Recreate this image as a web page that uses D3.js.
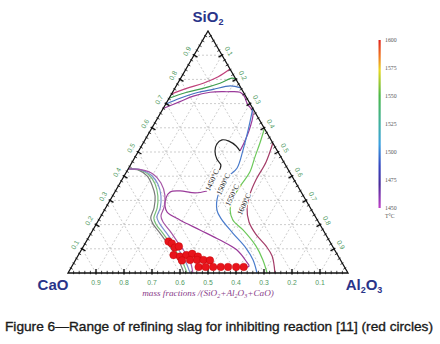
<!DOCTYPE html>
<html><head><meta charset="utf-8">
<script src="https://cdn.jsdelivr.net/npm/d3@7"></script>
<style>body{margin:0;background:#fff}svg{display:block}</style>
</head><body>
<svg id="c" width="440" height="344"></svg>
<script>
// ---- data (ternary mass fractions: [SiO2, Al2O3], CaO = 1 - SiO2 - Al2O3) ----
const fracTicks = [0.1,0.2,0.3,0.4,0.5,0.6,0.7,0.8,0.9];
const tempTicks = [1600,1575,1550,1525,1500,1475,1450];

const top1600 = [[0.74,0.0],[0.763,0.042],[0.784,0.091],[0.811,0.131],[0.843,0.157]];
const top1550 = [[0.722,0.0],[0.747,0.051],[0.763,0.101],[0.784,0.151],[0.805,0.183],[0.80,0.20]];
const top1500 = [[0.697,0.0],[0.722,0.039],[0.745,0.087],[0.759,0.139],[0.773,0.193],[0.765,0.235]];
const upper1450 = [[0.68,0.0],[0.708,0.046],[0.731,0.082],[0.747,0.134],[0.749,0.192],[0.747,0.241],[0.73,0.265],[0.70,0.29],[0.665,0.328],[0.599,0.350],[0.537,0.360],[0.504,0.362]];
const heart1450 = [[0.504,0.362],[0.525,0.338],[0.545,0.302],[0.550,0.275],[0.533,0.265],[0.504,0.273],[0.471,0.296],[0.446,0.323],[0.421,0.328]];
const loop1450 = [[0.339,0.327],[0.331,0.289],[0.339,0.231],[0.335,0.197],[0.310,0.195],[0.277,0.208],[0.252,0.228],[0.219,0.290],[0.178,0.382],[0.136,0.475],[0.095,0.556],[0.045,0.616],[0.029,0.632],[0.021,0.619]];
const right1500 = [[0.68,0.32],[0.591,0.348],[0.508,0.371],[0.434,0.387],[0.397,0.373],[0.322,0.375],[0.260,0.402],[0.227,0.432],[0.165,0.506],[0.103,0.584],[0.054,0.634],[0.0,0.675]];
const right1550 = [[0.597,0.403],[0.537,0.417],[0.479,0.428],[0.417,0.441],[0.364,0.436],[0.302,0.435],[0.260,0.449],[0.219,0.479],[0.178,0.536],[0.112,0.615],[0.054,0.669],[0.0,0.711]];
const right1600 = [[0.537,0.463],[0.459,0.478],[0.384,0.479],[0.326,0.487],[0.269,0.505],[0.211,0.541],[0.161,0.590],[0.112,0.651],[0.070,0.694],[0.0,0.739]];
const bundleGray = [[0.43,0.0],[0.424,0.042],[0.401,0.082],[0.364,0.118],[0.318,0.152],[0.269,0.173],[0.227,0.182],[0.202,0.203],[0.165,0.246],[0.124,0.292],[0.083,0.338],[0.041,0.379],[0.0,0.414]];
const bundleGreen = [[0.43,0.0],[0.426,0.044],[0.405,0.087],[0.368,0.127],[0.318,0.162],[0.269,0.184],[0.227,0.193],[0.202,0.213],[0.165,0.256],[0.124,0.302],[0.083,0.348],[0.041,0.390],[0.0,0.425]];
const bundleBlue = [[0.43,0.0],[0.426,0.048],[0.405,0.094],[0.368,0.137],[0.318,0.173],[0.269,0.195],[0.231,0.202],[0.207,0.222],[0.169,0.265],[0.128,0.311],[0.087,0.357],[0.045,0.398],[0.0,0.436]];
const bundlePurple = [[0.43,0.0],[0.426,0.051],[0.409,0.099],[0.372,0.146],[0.322,0.185],[0.273,0.207],[0.236,0.214],[0.211,0.234],[0.174,0.277],[0.132,0.323],[0.091,0.369],[0.050,0.411],[0.0,0.446]];

const labelTemps = ["1450°C","1500°C","1550°C","1600°C"];
const labelSiO2 = [0.384,0.368,0.322,0.285];
const labelAl2O3 = [0.322,0.370,0.425,0.486];

const slagSiO2 = [0.130,0.122,0.105,0.110,0.074,0.068,0.074,0.079,0.068,0.052,0.054,0.054,0.054,0.052,0.025,0.025,0.025,0.025,0.025,0.025,0.025];
const slagAl2O3 = [0.294,0.310,0.329,0.341,0.340,0.366,0.386,0.404,0.430,0.381,0.409,0.434,0.457,0.481,0.454,0.479,0.506,0.533,0.559,0.588,0.615];

// ---- drawing ----
const svg = d3.select("#c");
const xS = d3.scaleLinear().domain([0,1]).range([68,348]);
const yS = d3.scaleLinear().domain([0,1]).range([273,31]);
const P = (s,a) => [xS(a + s/2), yS(s)];
const line = d3.line().x(d => P(d[0],d[1])[0]).y(d => P(d[0],d[1])[1]).curve(d3.curveCatmullRom.alpha(0.5));

// grid
const g = svg.append("g");
fracTicks.forEach(k => {
  [[P(k,0),P(k,1-k)],[P(0,k),P(1-k,k)],[P(0,1-k),P(1-k,0)]].forEach(seg => {
    g.append("line").attr("x1",seg[0][0]).attr("y1",seg[0][1]).attr("x2",seg[1][0]).attr("y2",seg[1][1])
      .attr("stroke","#b8b8b8").attr("stroke-width",0.7).attr("stroke-dasharray","2,2");
  });
});

// contours
const contours = [
  [top1600,"#c0407a"],[top1550,"#3f9f4f"],[top1500,"#4470c0"],[upper1450,"#9a3a9a"],
  [heart1450,"#222"],[loop1450,"#9a3a9a"],
  [right1500,"#4a7ccc"],[right1550,"#6cc85a"],[right1600,"#a43c68"],
  [bundleGray,"#7a7a7a"],[bundleGreen,"#79bf79"],[bundleBlue,"#7d8fd0"],[bundlePurple,"#a656a6"]
];
contours.forEach(c => {
  svg.append("path").attr("d", line(c[0])).attr("fill","none").attr("stroke",c[1]).attr("stroke-width",1.2);
});

// contour labels
labelTemps.forEach((t,i) => {
  const p = P(labelSiO2[i], labelAl2O3[i]);
  svg.append("text").attr("transform",`translate(${p[0]},${p[1]}) rotate(-65)`)
    .attr("text-anchor","middle").attr("dy","0.35em")
    .attr("font-family","Liberation Serif").attr("font-size",7.5).attr("fill","#222")
    .attr("stroke","#fff").attr("stroke-width",2.5).attr("paint-order","stroke").text(t);
});

// triangle edges
const tri = [P(0,0),P(0,1),P(1,0)];
svg.append("path").attr("d","M"+tri.map(p=>p.join(",")).join("L")+"Z")
  .attr("fill","none").attr("stroke","#111").attr("stroke-width",1.3);

// ticks
const edges = [
  {f: v => P(0,v), n: [0,1]},
  {f: v => P(v,0), n: [-0.866,-0.5]},
  {f: v => P(1-v,v), n: [0.866,-0.5]}
];
edges.forEach(e => {
  d3.range(1,50).forEach(i => {
    const v = i/50, p = e.f(v), major = i % 5 === 0;
    const li = major ? 4 : 2.2, lo = major ? 1.5 : 1.2;
    svg.append("line").attr("x1",p[0]+e.n[0]*lo).attr("y1",p[1]+e.n[1]*lo)
      .attr("x2",p[0]-e.n[0]*li).attr("y2",p[1]-e.n[1]*li)
      .attr("stroke","#111").attr("stroke-width",major?1.4:0.8);
  });
});

// tick labels
const tl = svg.append("g").attr("font-family","Liberation Sans").attr("font-size",6.8).attr("fill","#4f9a62");
fracTicks.forEach(k => {
  const pb = P(0,1-k);
  tl.append("text").attr("x",pb[0]).attr("y",pb[1]+11.5).attr("text-anchor","middle").text(k.toFixed(1));
  const pl = P(k,0);
  tl.append("text").attr("transform",`translate(${pl[0]-0.866*8},${pl[1]-0.5*8}) rotate(-60)`)
    .attr("text-anchor","middle").attr("dy","0.35em").text(k.toFixed(1));
  const pr = P(1-k,k);
  tl.append("text").attr("transform",`translate(${pr[0]+0.866*8},${pr[1]-0.5*8}) rotate(60)`)
    .attr("text-anchor","middle").attr("dy","0.35em").text(k.toFixed(1));
});

// red circles
svg.append("g").selectAll("circle").data(d3.range(slagSiO2.length)).join("circle")
  .attr("cx", i => P(slagSiO2[i], slagAl2O3[i])[0])
  .attr("cy", i => P(slagSiO2[i], slagAl2O3[i])[1])
  .attr("r", 3.8).attr("fill","#e8141c").attr("stroke","#c00000").attr("stroke-width",0.4);

// corner labels
const navy = "#2a3489";
function chem(x, y, parts, anchor) {
  const t = svg.append("text").attr("x",x).attr("y",y).attr("text-anchor",anchor)
    .attr("font-family","Liberation Sans").attr("font-weight","bold").attr("font-size",15).attr("fill",navy);
  parts.forEach(p => {
    const s = t.append("tspan").text(p[0]);
    if (p[1]) s.attr("font-size",9).attr("dy",3); else s.attr("dy", p[2]||0);
  });
}
chem(208,22,[["SiO"],["2",true]],"middle");
chem(53,290,[["CaO"]],"middle");
chem(364,290,[["Al"],["2",true],["O",false,-3],["3",true]],"middle");

// axis title
const at = svg.append("text").attr("x",208).attr("y",296).attr("text-anchor","middle")
  .attr("font-family","Liberation Serif").attr("font-style","italic").attr("font-size",9.2).attr("fill","#8a3d8a");
[["mass fractions /(SiO"],["2",1],["+Al",-1],["2",1],["O",-1],["3",1],["+CaO)",-1]].forEach(p => {
  const s = at.append("tspan").text(p[0]);
  if (p[1] === 1) s.attr("font-size",6).attr("dy",2);
  else if (p[1] === -1) s.attr("dy",-2);
});

// colorbar
const cS = d3.scaleLinear().domain([1450,1600]).range([208,40]);
const grad = svg.append("defs").append("linearGradient").attr("id","cb")
  .attr("x1",0).attr("y1",0).attr("x2",0).attr("y2",1);
[[0,"#e0241e"],[0.1,"#f07a22"],[0.18,"#e8d820"],[0.33,"#4cb848"],[0.5,"#40b0a0"],[0.62,"#3aa0e0"],[0.75,"#3446c0"],[0.86,"#4a2c9a"],[1,"#c040c8"]]
  .forEach(s => grad.append("stop").attr("offset",s[0]).attr("stop-color",s[1]));
svg.append("rect").attr("x",378.5).attr("y",cS(1600)).attr("width",2.2).attr("height",cS(1450)-cS(1600)).attr("fill","url(#cb)");
const cl = svg.append("g").attr("font-family","Liberation Serif").attr("font-size",5.8).attr("fill","#555");
tempTicks.forEach(t => {
  cl.append("text").attr("x",385).attr("y",cS(t)).attr("dy","0.35em").text(t);
});
cl.append("text").attr("x",385).attr("y",cS(1450)+8).attr("dy","0.35em").text("T°C");

// caption
svg.append("text").attr("x",5).attr("y",331).attr("font-family","Liberation Sans").attr("font-size",13.5)
  .attr("fill","#1a1a1a").attr("stroke","#1a1a1a").attr("stroke-width",0.35)
  .attr("textLength",428).attr("lengthAdjust","spacingAndGlyphs")
  .text("Figure 6\u2014Range of refining slag for inhibiting reaction [11] (red circles)");
</script>
</body></html>
